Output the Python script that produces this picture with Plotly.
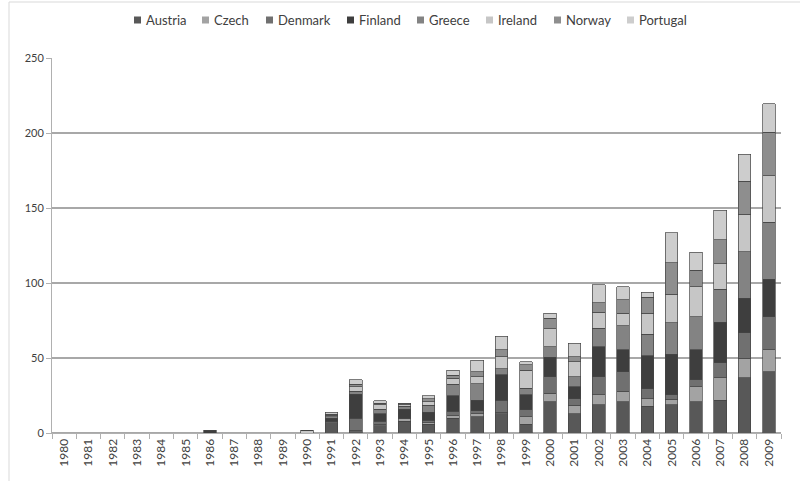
import plotly.graph_objects as go

years = [str(y) for y in range(1980, 2010)]

# Values per country, 1980-2009
austria  = [0, 0, 0, 0, 0, 0, 0, 0, 0, 0, 0, 7, 1, 5, 8, 6, 10, 11, 13, 6, 21, 13, 19, 21, 18, 19, 21, 22, 37, 41]
czech    = [0, 0, 0, 0, 0, 0, 0, 0, 0, 0, 0, 0.5, 1, 1, 1.5, 1, 1.5, 2, 1, 5, 5.5, 5.5, 6.5, 7, 5, 3.5, 10, 15, 13, 14.5]
denmark  = [0, 0, 0, 0, 0, 0, 0, 0, 0, 0, 0, 0.5, 8, 2, 0.5, 1.5, 3, 2, 8, 4.5, 11, 4.5, 12, 13, 6.5, 3, 4.5, 10, 17, 22]
finland  = [0, 0, 0, 0, 0, 0, 2, 0, 0, 0, 0, 2, 16, 5, 6, 5.5, 10.5, 7, 17, 10, 13, 8, 20, 14.5, 22, 27, 20, 27, 23, 25]
greece   = [0, 0, 0, 0, 0, 0, 0, 0, 0, 0, 0, 1, 2, 3, 2, 4.5, 7.5, 11, 4, 4.5, 7, 6.5, 12.5, 16, 14.5, 21, 22, 22, 31, 38]
ireland  = [0, 0, 0, 0, 0, 0, 0, 0, 0, 0, 2, 1, 3, 3, 1, 2.5, 4, 4.5, 8, 12, 12, 10, 10.5, 8.5, 14, 19, 20, 17, 25, 31]
norway   = [0, 0, 0, 0, 0, 0, 0, 0, 0, 0, 0, 0.5, 1.5, 1, 0.5, 2, 2, 3.5, 4.5, 3.5, 7, 3.5, 6.5, 9, 10.5, 21, 11, 16, 22, 29]
portugal = [0, 0, 0, 0, 0, 0, 0, 0, 0, 0, 0, 1.5, 3, 1.5, 0.5, 2, 3.5, 7.5, 9, 2, 3.5, 9, 12, 8.5, 3.5, 20, 12, 19.5, 18, 19]

series = [
    ("Austria", austria, "#585858"),
    ("Czech", czech, "#a3a3a3"),
    ("Denmark", denmark, "#707070"),
    ("Finland", finland, "#3e3e3e"),
    ("Greece", greece, "#838383"),
    ("Ireland", ireland, "#c6c6c6"),
    ("Norway", norway, "#8e8e8e"),
    ("Portugal", portugal, "#cdcdcd"),
]

W, H = 800, 481
ML, MR, MT, MB = 52, 19, 58, 48
PW, PH = W - ML - MR, H - MT - MB


def px_x(px):
    return (px - ML) / PW


def px_y(py):
    return (H - MB - py) / PH


fig = go.Figure()
for name, vals, color in series:
    fig.add_trace(go.Bar(
        x=years, y=vals, name=name, showlegend=False,
        marker=dict(color=color, line=dict(color="#454545", width=0.7)),
    ))

# Compact single-row legend across the top
legend_marker_px = [134, 202, 266, 347, 417, 486, 554, 627]
legend_y_px = 20
shapes = []
annotations = []
for (name, _, color), mx in zip(series, legend_marker_px):
    shapes.append(dict(
        type="rect", xref="paper", yref="paper",
        x0=px_x(mx), x1=px_x(mx + 7), y0=px_y(legend_y_px + 3.5), y1=px_y(legend_y_px - 3.5),
        fillcolor=color, line=dict(color=color, width=0),
    ))
    annotations.append(dict(
        text=name, xref="paper", yref="paper", x=px_x(mx + 10), y=px_y(legend_y_px),
        xanchor="left", yanchor="middle", showarrow=False,
        font=dict(size=13, color="#404040"),
    ))

# Light outer frame (left and top edges)
shapes += [
    dict(type="line", xref="paper", yref="paper", x0=px_x(9), x1=px_x(W + 5), y0=px_y(2), y1=px_y(2),
         line=dict(color="#d9d9d9", width=1)),
    dict(type="line", xref="paper", yref="paper", x0=px_x(9), x1=px_x(9), y0=px_y(2), y1=px_y(H + 5),
         line=dict(color="#d9d9d9", width=1)),
]

fig.update_layout(
    barmode="stack",
    bargap=0.48,
    width=W, height=H,
    margin=dict(l=ML, r=MR, t=MT, b=MB, autoexpand=False),
    paper_bgcolor="white",
    plot_bgcolor="white",
    font=dict(family="Lato, Open Sans, sans-serif", size=11, color="#404040"),
    showlegend=False,
    xaxis=dict(
        type="category", tickangle=-90,
        showline=True, linecolor="#b0b0b0", linewidth=1,
        ticks="outside", tickson="boundaries", ticklen=5, tickcolor="#b0b0b0",
        tickfont=dict(size=12, color="#404040"),
    ),
    yaxis=dict(
        range=[0, 250], dtick=50,
        showgrid=True, gridcolor="#a8a8a8", gridwidth=1.5,
        showline=True, linecolor="#b0b0b0", linewidth=1,
        ticks="outside", ticklen=5, tickcolor="#b0b0b0",
        zeroline=True, zerolinecolor="#a8a8a8", zerolinewidth=1.5,
        tickfont=dict(size=11, color="#404040"),
    ),
    shapes=shapes,
    annotations=annotations,
)

fig.write_html("out.html")
